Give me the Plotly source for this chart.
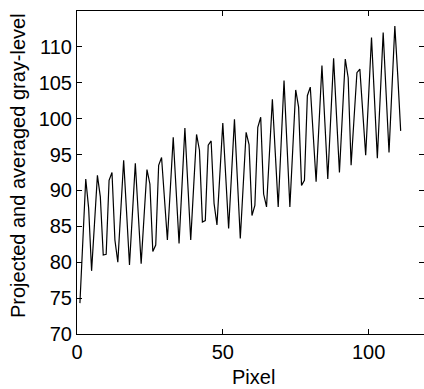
import plotly.graph_objects as go

pixel = list(range(1, 112))
gray_level = [
    74.3, 83.0, 91.6, 87.5, 78.8, 85.4, 92.1, 89.1, 81.0, 81.1,
    91.4, 92.5, 83.1, 80.0, 87.0, 94.2, 87.0, 79.6, 86.7, 93.8,
    86.8, 79.8, 86.4, 92.9, 90.9, 81.5, 82.4, 93.5, 94.6, 88.9,
    83.1, 90.2, 97.4, 90.0, 82.6, 90.6, 98.7, 90.9, 83.1, 90.5,
    97.8, 95.6, 85.6, 85.8, 96.3, 96.9, 88.2, 85.2, 92.3, 99.4,
    92.0, 84.7, 92.3, 99.9, 91.6, 83.3, 90.7, 98.1, 96.4, 86.5,
    87.9, 98.8, 100.2, 89.5, 87.7, 95.2, 102.7, 95.2, 87.7, 96.5,
    105.3, 96.5, 87.7, 95.8, 104.0, 101.6, 90.7, 91.4, 103.2, 104.4,
    97.8, 91.2, 99.3, 107.4, 99.5, 91.6, 100.0, 108.4, 100.4, 92.5,
    100.4, 108.3, 105.7, 93.5, 100.0, 106.4, 106.9, 100.9, 94.9, 103.1,
    111.3, 102.9, 94.5, 103.2, 112.0, 103.6, 95.3, 104.1, 112.9, 106.0,
    98.3,
]

x_ticks = [0, 50, 100]
y_ticks = [70, 75, 80, 85, 90, 95, 100, 105, 110]
x_title = "Pixel"
y_title = "Projected and averaged gray-level"

FONT = "Liberation Sans, Arial, Helvetica, sans-serif"

fig = go.Figure()
fig.add_trace(go.Scatter(
    x=pixel, y=gray_level, mode="lines",
    line=dict(color="black", width=1.2),
    showlegend=False, hoverinfo="skip",
))
# invisible trace to hold the right-side (mirrored) tick marks without a line
fig.add_trace(go.Scatter(
    x=[pixel[0]], y=[gray_level[0]], yaxis="y2", mode="lines",
    line=dict(width=0), showlegend=False, hoverinfo="skip",
))

fig.update_layout(
    width=424, height=389,
    margin=dict(l=77, r=0, t=11, b=55, autoexpand=False),
    paper_bgcolor="white", plot_bgcolor="white",
    font=dict(family=FONT, size=20, color="black"),
    xaxis=dict(
        range=[0, 119], tickvals=x_ticks, ticktext=[str(v) for v in x_ticks],
        ticks="inside", ticklen=5, tickwidth=1, tickcolor="black",
        showline=True, linecolor="black", linewidth=1, mirror="ticks",
        showgrid=False, zeroline=False,
        tickfont=dict(size=20),
    ),
    yaxis=dict(
        range=[70, 115], tickvals=y_ticks, ticktext=[str(v) for v in y_ticks],
        ticks="inside", ticklen=5, tickwidth=1, tickcolor="black",
        showline=True, linecolor="black", linewidth=1, mirror=False,
        showgrid=False, zeroline=False,
        tickfont=dict(size=20),
    ),
    yaxis2=dict(
        overlaying="y", side="right", range=[70, 115], tickvals=y_ticks,
        ticks="inside", ticklen=5, tickwidth=1, tickcolor="black",
        showticklabels=False, showline=False, showgrid=False, zeroline=False,
    ),
    annotations=[
        dict(text=x_title, xref="paper", yref="paper", x=0.51, y=-0.133,
             xanchor="center", yanchor="middle", showarrow=False,
             font=dict(size=20)),
        dict(text=y_title, xref="paper", yref="paper", x=-0.170, y=0.52,
             xanchor="center", yanchor="middle", textangle=-90,
             showarrow=False, font=dict(size=20)),
    ],
)

fig.write_html(
    "out.html",
    config={"displayModeBar": False},
    post_script="document.body.style.margin='0';document.body.style.overflow='hidden';",
)
